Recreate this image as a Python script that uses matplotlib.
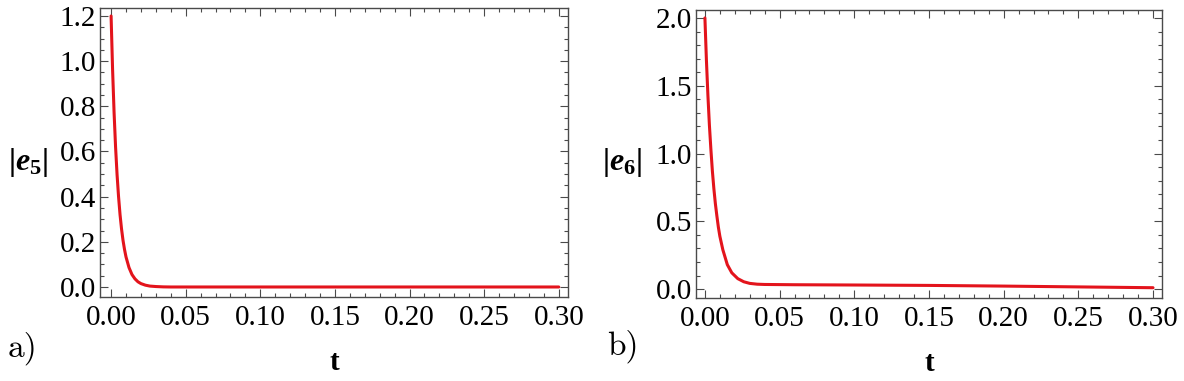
import numpy as np
import matplotlib
matplotlib.use("Agg")
import matplotlib.pyplot as plt
from matplotlib.ticker import MultipleLocator

plt.rcParams.update({
    "font.family": "Liberation Serif",
    "mathtext.fontset": "custom",
    "mathtext.rm": "Liberation Serif:bold",
    "mathtext.it": "Liberation Serif:bold:italic",
    "mathtext.bf": "Liberation Serif:bold",
})

# 读图得到的数据
t5 = [0, 0.001, 0.002, 0.003, 0.004, 0.005, 0.006, 0.007, 0.008, 0.009, 0.010,
      0.012, 0.014, 0.016, 0.018, 0.020, 0.023, 0.026, 0.030, 0.035, 0.040,
      0.05, 0.10, 0.15, 0.20, 0.25, 0.30]
e5 = [1.2, 0.963, 0.773, 0.62, 0.498, 0.40, 0.32, 0.257, 0.206, 0.166, 0.133,
      0.086, 0.055, 0.036, 0.023, 0.015, 0.008, 0.004, 0.002, 0.0005, 0.0,
      0.0, 0.0, 0.0, 0.0, 0.0, 0.0]

t6 = [0, 0.001, 0.002, 0.003, 0.004, 0.005, 0.006, 0.007, 0.008, 0.009, 0.010,
      0.012, 0.015, 0.018, 0.022, 0.026, 0.030, 0.035, 0.040, 0.06,
      0.10, 0.15, 0.20, 0.25, 0.30]
e6 = [2.0, 1.69, 1.43, 1.21, 1.03, 0.87, 0.74, 0.63, 0.54, 0.457, 0.39,
      0.29, 0.18, 0.12, 0.077, 0.054, 0.042, 0.036, 0.034, 0.032,
      0.030, 0.027, 0.022, 0.016, 0.010]

x_ticks = [0.0, 0.05, 0.10, 0.15, 0.20, 0.25, 0.30]
x_ticklabels = ["0.00", "0.05", "0.10", "0.15", "0.20", "0.25", "0.30"]

RED = "#e3141c"
FRAME = "#4a4a4a"

fig = plt.figure(figsize=(11.84, 3.81), dpi=100)
ax1 = fig.add_axes([0.0845, 0.2205, 0.395, 0.7585])
ax2 = fig.add_axes([0.5878, 0.2178, 0.3936, 0.756])


def style(ax, ylim, ymaj, ymin, ylabel, ylab_x, ylab_y):
    ax.set_xlim(-0.0074, 0.306)
    ax.set_ylim(*ylim)
    ax.set_xticks(x_ticks)
    ax.set_xticklabels(x_ticklabels)
    ax.xaxis.set_minor_locator(MultipleLocator(0.01))
    ax.yaxis.set_major_locator(MultipleLocator(ymaj))
    ax.yaxis.set_minor_locator(MultipleLocator(ymin))
    ax.yaxis.set_major_formatter(plt.FormatStrFormatter("%.1f"))
    ax.tick_params(which="both", direction="in", top=True, right=True,
                   color=FRAME, width=0.8, labelsize=21)
    ax.tick_params(which="major", length=6)
    ax.tick_params(which="minor", length=3)
    ax.tick_params(axis="x", pad=6)
    ax.tick_params(axis="y", pad=3)
    for s in ax.spines.values():
        s.set_color(FRAME)
        s.set_linewidth(1.0)
    ax.set_ylabel(ylabel, rotation=0, fontsize=23, ha="center", va="center")
    ax.yaxis.set_label_coords(ylab_x, ylab_y)
    ax.set_xlabel("t", fontsize=21, fontweight="bold", va="center")
    ax.xaxis.set_label_coords(0.5, -0.228)


ax1.plot(t5, e5, color=RED, lw=2.2, solid_capstyle="round")
style(ax1, (-0.0443, 1.2354), 0.2, 0.05, r"$|e_5|$", -0.154, 0.467)

ax2.plot(t6, e6, color=RED, lw=2.2, solid_capstyle="round")
style(ax2, (-0.066, 2.059), 0.5, 0.1, r"$|e_6|$", -0.159, 0.472)
ax2.set_xlim(-0.006, 0.306)

fig.text(8 / 1184, 1 - 357 / 381, "a)", family="cmr10", fontsize=24, va="baseline")
fig.text(607 / 1184, 1 - 355 / 381, "b)", family="cmr10", fontsize=24, va="baseline")

fig.savefig("out.png", dpi=100)
